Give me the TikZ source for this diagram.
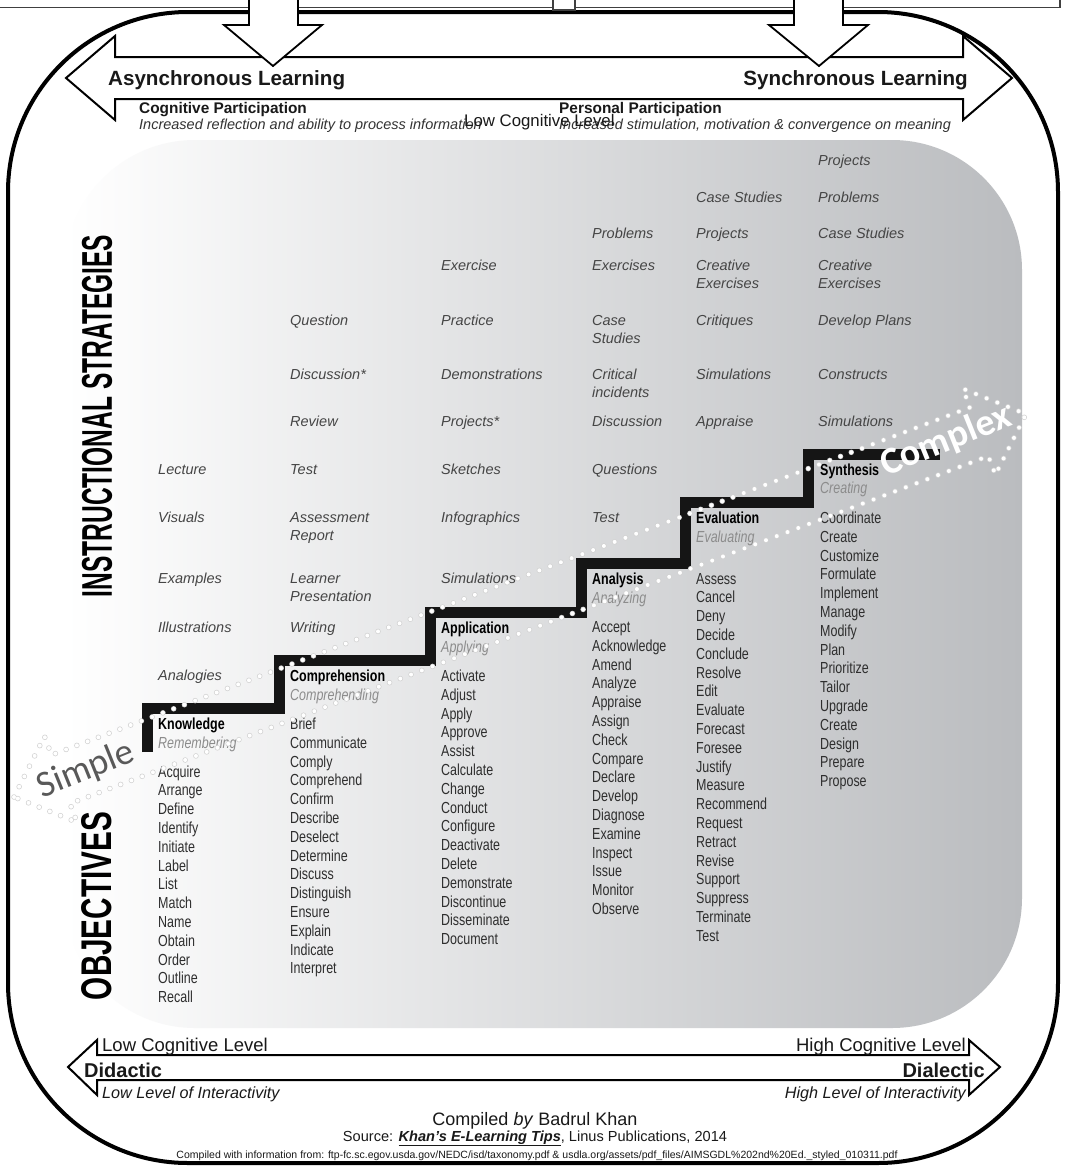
\documentclass[tikz,border=0pt]{standalone}
\usepackage{fontspec}
\usepackage{graphicx}
\setmainfont{Liberation Sans}
\newfontfamily\narrowfont[FakeStretch=0.78]{Liberation Sans}
\newfontfamily\carlito{Carlito}
\definecolor{stratcol}{HTML}{454545}
\definecolor{verbcol}{HTML}{2E2E2E}
\definecolor{subcol}{HTML}{8C8C8C}
\definecolor{panelR}{RGB}{186,188,191}
\definecolor{stairblack}{HTML}{151515}
\newcommand\twoline[2]{\begin{tabular}[t]{@{}l@{}}#1\\#2\end{tabular}}
\newcommand\vlist[1]{\begin{tabular}[t]{@{}l@{}}#1\end{tabular}}
\tikzset{
  strat/.style={anchor=base west, inner sep=0pt, text=stratcol, font=\fontsize{14.5}{18}\selectfont\itshape},
  verbs/.style={anchor=base west, inner sep=0pt, text=verbcol, font=\narrowfont\fontsize{16}{18.8}\selectfont},
  lvl/.style={anchor=base west, inner sep=0pt, text=black, font=\narrowfont\bfseries\fontsize{16}{18.8}\selectfont},
  sublvl/.style={anchor=base west, inner sep=0pt, text=subcol, font=\narrowfont\itshape\fontsize{16}{18.8}\selectfont},
  blockarrow/.style={draw=black, line width=2pt, fill=white, line join=miter},
  dotsring/.style={gray!35, line width=5.5pt, line cap=round, dash pattern=on 0pt off 11.5pt},
  dotswhite/.style={white, line width=4pt, line cap=round, dash pattern=on 0pt off 11.5pt},
  lbl/.style={inner sep=0pt, text=black!90},
}
\begin{document}
\begin{tikzpicture}[x=1pt,y=-1pt]
\useasboundingbox (0,0) rectangle (1065,1168);
\fill[white] (0,0) rectangle (1065,1168);

% gradient panel
\shade[left color=white, right color=panelR, rounded corners=130pt] (65,140) rectangle (1022,1028);

% big frame
\draw[line width=4pt, rounded corners=180pt] (8,12) rectangle (1058,1163);

% upper boxes (cut off)
\draw[line width=1.2pt, black!75] (-2,7.5) -- (553,7.5) (575,7.5) -- (1060,7.5) -- (1060,-2);
\draw[line width=1.2pt, black!75, fill=white] (553,-2) -- (553,10) -- (575,10) -- (575,-2);

% top double arrow
\draw[blockarrow] (66,78) -- (115,36) -- (115,57) -- (963,57) -- (963,36) -- (1012,78)
  -- (963,120) -- (963,99) -- (115,99) -- (115,120) -- cycle;

% down arrows
\draw[blockarrow, line width=1.8pt] (249,-5) -- (249,25) -- (224,25) -- (273,66) -- (322,25) -- (298,25) -- (298,-5);
\draw[blockarrow, line width=1.8pt] (794,-5) -- (794,25) -- (769,25) -- (819,66) -- (868,25) -- (843,25) -- (843,-5);

% top labels
\node[lbl, anchor=base west, font=\bfseries\fontsize{20.6}{24}\selectfont] (async) at (108,85) {Asynchronous Learning};
\node[lbl, anchor=base east, font=\bfseries\fontsize{20.6}{24}\selectfont] (sync) at (968,85) {Synchronous Learning};
\node[lbl, anchor=base west, font=\bfseries\fontsize{15.4}{18}\selectfont] (cogp) at (139,113) {Cognitive Participation};
\node[lbl, anchor=base west, font=\itshape\fontsize{14.5}{17}\selectfont, text=black!80] (cogd) at (139,129) {Increased reflection and ability to process information};
\node[lbl, anchor=base west, font=\bfseries\fontsize{15.4}{18}\selectfont] (perp) at (559,113) {Personal Participation};
\node[lbl, anchor=base west, font=\itshape\fontsize{14.5}{17}\selectfont, text=black!80] (perd) at (559,129) {Increased stimulation, motivation \& convergence on meaning};
\node[lbl, anchor=base west, font=\fontsize{16.8}{19}\selectfont] (lowtop) at (464,126) {Low Cognitive Level};

% vertical labels
\node[rotate=90, inner sep=0pt] (instr) at (97,416) {\resizebox{362pt}{30pt}{\bfseries INSTRUCTIONAL STRATEGIES}};
\node[rotate=90, inner sep=0pt] (objv) at (97,906) {\resizebox{188pt}{30pt}{\bfseries OBJECTIVES}};

% staircase
\draw[line width=11pt, stairblack, line join=miter, line cap=butt]
  (147,752) -- (147,708) -- (279,708) -- (279,660) -- (430,660) -- (430,612) -- (581,612)
  -- (581,563) -- (685,563) -- (685,502) -- (808,502) -- (808,454) -- (940,454);

% instructional strategies
\node[strat] (a1) at (158,474) {Lecture};
\node[strat] (a2) at (158,522) {Visuals};
\node[strat] (a3) at (158,583) {Examples};
\node[strat] (a4) at (158,632) {Illustrations};
\node[strat] (a5) at (158,680) {Analogies};

\node[strat] (b1) at (290,325) {Question};
\node[strat] (b2) at (290,379) {Discussion*};
\node[strat] (b3) at (290,426) {Review};
\node[strat] (b4) at (290,474) {Test};
\node[strat] (b5) at (290,522) {\twoline{Assessment}{Report}};
\node[strat] (b6) at (290,583) {\twoline{Learner}{Presentation}};
\node[strat] (b7) at (290,632) {Writing};

\node[strat] (c1) at (441,270) {Exercise};
\node[strat] (c2) at (441,325) {Practice};
\node[strat] (c3) at (441,379) {Demonstrations};
\node[strat] (c4) at (441,426) {Projects*};
\node[strat] (c5) at (441,474) {Sketches};
\node[strat] (c6) at (441,522) {Infographics};
\node[strat] (c7) at (441,583) {Simulations};

\node[strat] (d1) at (592,238) {Problems};
\node[strat] (d2) at (592,270) {Exercises};
\node[strat] (d3) at (592,325) {\twoline{Case}{Studies}};
\node[strat] (d4) at (592,379) {\twoline{Critical}{incidents}};
\node[strat] (d5) at (592,426) {Discussion};
\node[strat] (d6) at (592,474) {Questions};
\node[strat] (d7) at (592,522) {Test};

\node[strat] (e1) at (696,202) {Case Studies};
\node[strat] (e2) at (696,238) {Projects};
\node[strat] (e3) at (696,270) {\twoline{Creative}{Exercises}};
\node[strat] (e4) at (696,325) {Critiques};
\node[strat] (e5) at (696,379) {Simulations};
\node[strat] (e6) at (696,426) {Appraise};

\node[strat] (f1) at (818,165) {Projects};
\node[strat] (f2) at (818,202) {Problems};
\node[strat] (f3) at (818,238) {Case Studies};
\node[strat] (f4) at (818,270) {\twoline{Creative}{Exercises}};
\node[strat] (f5) at (818,325) {Develop Plans};
\node[strat] (f6) at (818,379) {Constructs};
\node[strat] (f7) at (818,426) {Simulations};

% objectives
\node[lvl] (k) at (158,729) {Knowledge};
\node[sublvl] (ks) at (158,748) {Remembering};
\node[verbs] (kv) at (158,777) {\vlist{Acquire\\Arrange\\Define\\Identify\\Initiate\\Label\\List\\Match\\Name\\Obtain\\Order\\Outline\\Recall}};

\node[lvl] (cm) at (290,681) {Comprehension};
\node[sublvl] (cms) at (290,700) {Comprehending};
\node[verbs] (cmv) at (290,729.5) {\vlist{Brief\\Communicate\\Comply\\Comprehend\\Confirm\\Describe\\Deselect\\Determine\\Discuss\\Distinguish\\Ensure\\Explain\\Indicate\\Interpret}};

\node[lvl] (ap) at (441,633) {Application};
\node[sublvl] (aps) at (441,652) {Applying};
\node[verbs] (apv) at (441,681.5) {\vlist{Activate\\Adjust\\Apply\\Approve\\Assist\\Calculate\\Change\\Conduct\\Configure\\Deactivate\\Delete\\Demonstrate\\Discontinue\\Disseminate\\Document}};

\node[lvl] (an) at (592,584) {Analysis};
\node[sublvl] (ans) at (592,603) {Analyzing};
\node[verbs] (anv) at (592,632.5) {\vlist{Accept\\Acknowledge\\Amend\\Analyze\\Appraise\\Assign\\Check\\Compare\\Declare\\Develop\\Diagnose\\Examine\\Inspect\\Issue\\Monitor\\Observe}};

\node[lvl] (ev) at (696,523.5) {Evaluation};
\node[sublvl] (evs) at (696,542) {Evaluating};
\node[verbs] (evv) at (696,584) {\vlist{Assess\\Cancel\\Deny\\Decide\\Conclude\\Resolve\\Edit\\Evaluate\\Forecast\\Foresee\\Justify\\Measure\\Recommend\\Request\\Retract\\Revise\\Support\\Suppress\\Terminate\\Test}};

\node[lvl] (sy) at (820,475) {Synthesis};
\node[sublvl] (sys) at (820,493.5) {Creating};
\node[verbs] (syv) at (820,523.5) {\vlist{Coordinate\\Create\\Customize\\Formulate\\Implement\\Manage\\Modify\\Plan\\Prioritize\\Tailor\\Upgrade\\Create\\Design\\Prepare\\Propose}};

% dotted simple-complex arrow
\begin{scope}[shift={(14,797)}, rotate=20.73]
  \draw[dotsring] (0,0) -- (50,-46) -- (50,-26) -- (1032,-26) -- (1032,-46) -- (1082,0) -- (1032,46) -- (1032,26) -- (50,26) -- (50,46) -- cycle;
  \draw[dotswhite] (0,0) -- (50,-46) -- (50,-26) -- (1032,-26) -- (1032,-46) -- (1082,0) -- (1032,46) -- (1032,26) -- (50,26) -- (50,46) -- cycle;
\end{scope}
\node[rotate=22, inner sep=0pt, text=black!65, font=\carlito\fontsize{37}{40}\selectfont] (simple) at (86,770) {Simple};
\node[rotate=22, inner sep=0pt, text=white, font=\carlito\bfseries\fontsize{38}{40}\selectfont] (complex) at (946,441) {Complex};

% bottom double arrow
\draw[blockarrow] (68,1067) -- (97,1040) -- (97,1055) -- (969,1055) -- (969,1040) -- (1000,1067)
  -- (969,1095) -- (969,1080) -- (97,1080) -- (97,1095) -- cycle;
\node[lbl, anchor=base west, font=\fontsize{18.5}{20}\selectfont] (lowcl) at (102,1051) {Low Cognitive Level};
\node[lbl, anchor=base east, font=\fontsize{18.5}{20}\selectfont] (highcl) at (966,1051) {High Cognitive Level};
\node[lbl, anchor=base west, font=\bfseries\fontsize{20}{22}\selectfont] (didac) at (84,1077) {Didactic};
\node[lbl, anchor=base east, font=\bfseries\fontsize{20}{22}\selectfont] (dialec) at (985,1077) {Dialectic};
\node[lbl, anchor=base west, font=\itshape\fontsize{16.2}{18}\selectfont] (lowint) at (102,1098) {Low Level of Interactivity};
\node[lbl, anchor=base east, font=\itshape\fontsize{16.2}{18}\selectfont] (highint) at (966,1098) {High Level of Interactivity};

% footer
\node[lbl, anchor=base, font=\fontsize{18}{20}\selectfont] (compiled) at (535,1125) {Compiled \textit{by} Badrul Khan};
\node[lbl, anchor=base] (source) at (535,1141) {\resizebox{384pt}{!}{\fontsize{14}{16}\selectfont Source: \textbf{\textit{\underline{Khan's E-Learning Tips}}}, Linus Publications, 2014}};
\node[lbl, anchor=base] (info) at (537,1158) {\resizebox{721pt}{!}{\fontsize{10}{12}\selectfont Compiled with information from: ftp-fc.sc.egov.usda.gov/NEDC/isd/taxonomy.pdf \& usdla.org/assets/pdf\_files/AIMSGDL\%202nd\%20Ed.\_styled\_010311.pdf}};
\end{tikzpicture}
\end{document}
